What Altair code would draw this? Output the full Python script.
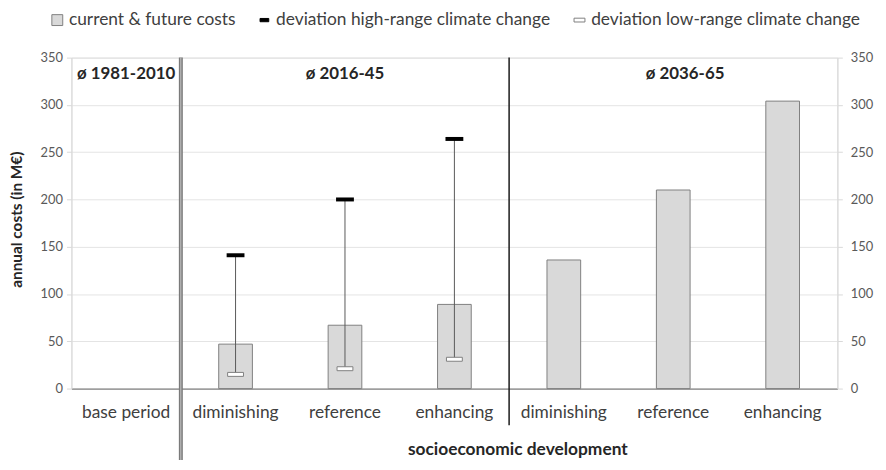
import altair as alt
import pandas as pd

# ---- data ----
periods = ["ø 1981-2010", "ø 2016-45", "ø 2016-45", "ø 2016-45", "ø 2036-65", "ø 2036-65", "ø 2036-65"]
categories = ["base period", "diminishing", "reference", "enhancing", "diminishing", "reference", "enhancing"]
costs = [None, 47, 67, 89, 136, 210, 304]
high_range = [None, 141, 200, 264, None, None, None]
low_range = [None, 15, 21, 31, None, None, None]

period_labels = ["ø 1981-2010", "ø 2016-45", "ø 2036-65"]
period_label_at = ["base period", "reference", "reference"]  # category each header sits over
period_label_period = ["ø 1981-2010", "ø 2016-45", "ø 2036-65"]

legend_series = ["current & future costs", "deviation high-range climate change", "deviation low-range climate change"]

FONT = "Lato"
keys = [f"{p}|{c}" for p, c in zip(periods, categories)]

df = pd.DataFrame({"key": keys, "category": categories, "period": periods,
                   "cost": costs, "high": high_range, "low": low_range})
bars_df = df.dropna(subset=["cost"])
err_df = df.dropna(subset=["high"])

hdr_df = pd.DataFrame({"label": period_labels,
                       "key": [f"{p}|{c}" for p, c in zip(period_label_period, period_label_at)]})
sep_df = pd.DataFrame({"key": [keys[1], keys[4]], "kind": ["double", "single"]})
leg_df = pd.DataFrame({"series": legend_series})

W, H = 773, 334
xscale = alt.Scale(domain=keys, paddingInner=0, paddingOuter=0)
yscale = alt.Scale(domain=[0, 350], nice=False)
ticks = [0, 50, 100, 150, 200, 250, 300, 350]

xaxis = alt.Axis(
    title="socioeconomic development", labelExpr="split(datum.label, '|')[1]",
    labelAngle=0, labelFont=FONT, labelFontSize=17.5, labelColor="#404040", labelPadding=15,
    ticks=False, domainColor="#868686", domainWidth=1.2, labelLimit=0,
    titleFont=FONT, titleFontSize=17.5, titleFontWeight="bold", titleColor="#262626",
    titleX=450, titleY=62, titleAlign="center", titleBaseline="middle",
)
yaxis_left = alt.Axis(
    title="annual costs (in M€)", values=ticks,
    labelFont=FONT, labelFontSize=13, labelColor="#595959", labelPadding=4,
    tickColor="#d9d9d9", tickSize=5, domainColor="#d9d9d9",
    grid=True, gridColor="#e4e4e4",
    titleFont=FONT, titleFontSize=15.5, titleFontWeight="bold", titleColor="#262626",
    titleX=-55, titleY=163, titleAngle=-90, titleAlign="center", titleBaseline="middle",
)
yaxis_right = alt.Axis(
    title=None, orient="right", values=ticks,
    labelFont=FONT, labelFontSize=13, labelColor="#595959", labelPadding=8,
    tickColor="#d9d9d9", tickSize=5, domainColor="#d9d9d9", grid=False,
)

X = alt.X("key:N", scale=xscale, axis=xaxis, sort=keys)
Xs = alt.X("key:N", scale=xscale, sort=keys)

bars = alt.Chart(bars_df).mark_bar(
    width=34, fill="#d9d9d9", stroke="#7f7f7f", strokeWidth=1
).encode(x=X, y=alt.Y("cost:Q", scale=yscale, axis=yaxis_left))

err = alt.Chart(err_df).mark_rule(color="#595959", strokeWidth=1).encode(
    x=Xs, y="low:Q", y2="high:Q")

hi = alt.Chart(err_df).mark_tick(size=18, thickness=4, color="black", opacity=1).encode(
    x=Xs, y="high:Q")

lo = alt.Chart(err_df).mark_tick(size=16, thickness=4, fill="white", stroke="#7f7f7f",
                                  strokeWidth=1, opacity=1, filled=True).encode(
    x=Xs, y="low:Q")

sep_double = alt.Chart(sep_df[sep_df.kind == "double"]).mark_rule(
    color="#7a7a7a", strokeWidth=4, clip=False).encode(
    x=alt.X("key:N", scale=xscale, sort=keys, bandPosition=0),
    y=alt.value(0), y2=alt.value(414))
sep_double_in = alt.Chart(sep_df[sep_df.kind == "double"]).mark_rule(
    color="#c8c8c8", strokeWidth=1, clip=False).encode(
    x=alt.X("key:N", scale=xscale, sort=keys, bandPosition=0),
    y=alt.value(0), y2=alt.value(414))
sep_single = alt.Chart(sep_df[sep_df.kind == "single"]).mark_rule(
    color="#1a1a1a", strokeWidth=1.5, clip=False).encode(
    x=alt.X("key:N", scale=xscale, sort=keys, bandPosition=0),
    y=alt.value(0), y2=alt.value(371))

hdr_style = dict(font=FONT, fontSize=17, fontWeight="bold", color="#262626", baseline="middle")
hdr_a = alt.Chart(hdr_df.iloc[:2]).mark_text(**hdr_style).encode(
    x=Xs, y=alt.value(17), text="label:N")
hdr_b = alt.Chart(hdr_df.iloc[2:]).mark_text(dx=12, **hdr_style).encode(
    x=Xs, y=alt.value(17), text="label:N")

legend_layer = alt.Chart(leg_df).mark_point(filled=True, opacity=0).encode(
    shape=alt.Shape("series:N", title=None,
                    scale=alt.Scale(domain=legend_series,
                                    range=["square", "M-0.8,-0.3H0.8V0.3H-0.8Z", "M-1,-0.35H1V0.35H-1Z"]),
                    legend=alt.Legend(orient="none", legendX=-23, legendY=-47, direction="horizontal",
                                      columns=3, columnPadding=20, symbolOpacity=1, symbolSize=121,
                                      symbolStrokeWidth=1, labelFont=FONT, labelFontSize=17.5,
                                      labelColor="#404040", labelOffset=3, labelLimit=0)),
    fill=alt.Fill("series:N", title=None,
                  scale=alt.Scale(domain=legend_series, range=["#d9d9d9", "black", "white"])),
    stroke=alt.Stroke("series:N", title=None,
                      scale=alt.Scale(domain=legend_series, range=["#7f7f7f", "black", "#7f7f7f"])),
)

left = alt.layer(bars, err, hi, lo, sep_double, sep_double_in, sep_single, hdr_a, hdr_b, legend_layer)
right = alt.Chart(bars_df).mark_bar(opacity=0).encode(
    x=Xs, y=alt.Y("cost:Q", scale=yscale, axis=yaxis_right))

chart = alt.layer(left, right).resolve_scale(y="independent").properties(
    width=W, height=H,
    autosize=alt.AutoSizeParams(type="none"),
    padding={"left": 64, "top": 48, "right": 41, "bottom": 70},
).configure_view(stroke=None).configure(background="white")

chart.save("out.html", embed_options={"renderer": "svg", "actions": False})
